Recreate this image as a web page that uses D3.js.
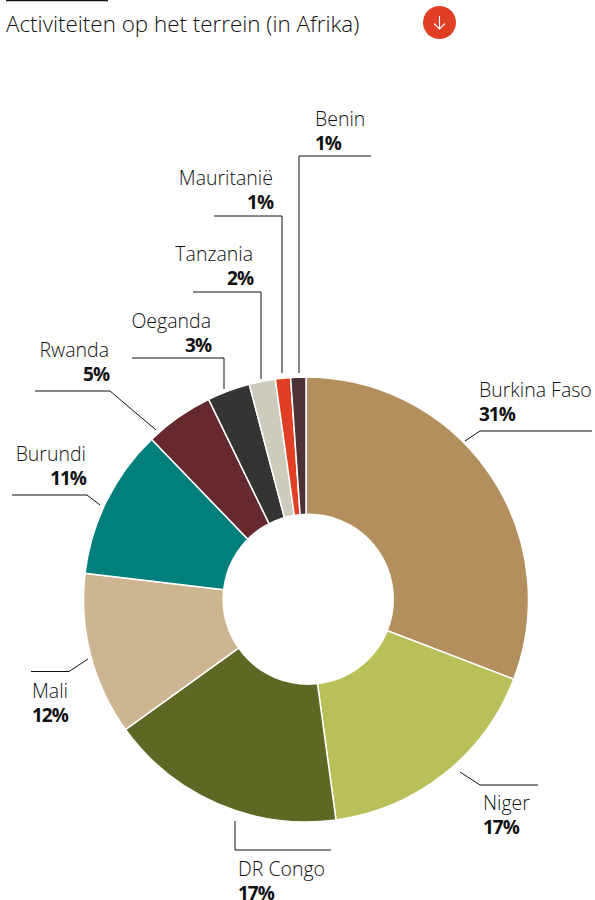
<!DOCTYPE html>
<html>
<head>
<meta charset="utf-8">
<script src="https://cdn.jsdelivr.net/npm/d3@7"></script>
<style>
  html, body { margin: 0; padding: 0; background: #fff; }
  svg { display: block; font-family: "Open Sans", sans-serif; }
  .naam { font-size: 19.5px; font-weight: 300; fill: #111; }
  .pct { font-size: 19px; font-weight: 700; fill: #111; letter-spacing: -1px; }
</style>
</head>
<body>
<svg width="595" height="900"></svg>
<script>
// Waarden
const landen = ["Burkina Faso", "Niger", "DR Congo", "Mali", "Burundi", "Rwanda", "Oeganda", "Tanzania", "Mauritanië", "Benin"];
const aandelen = [30.8, 17, 17.2, 11.8, 10.9, 5, 3.1, 1.9, 1.1, 1.1];
const labels = ["31%", "17%", "17%", "12%", "11%", "5%", "3%", "2%", "1%", "1%"];
const kleuren = ["#b38f5d", "#b9bf59", "#5e6723", "#cdb591", "#007f7c", "#65292e", "#343432", "#cdcbbb", "#e03f26", "#4f3238"];

// Plaats van de labels en de hulplijnen
const labelPos = [
  { x: 479, y: 397, anchor: "start", line: [[465, 441], [480, 431], [592, 431]] },
  { x: 483, y: 810, anchor: "start", line: [[460, 772], [480, 785], [538, 785]] },
  { x: 238, y: 876, anchor: "start", line: [[235, 821], [235, 850], [331, 850]] },
  { x: 32, y: 698, anchor: "start", line: [[88, 659], [69, 671.5], [31, 671.5]] },
  { x: 86, y: 461, anchor: "end", line: [[100, 505], [87, 495], [12, 495]] },
  { x: 109, y: 357, anchor: "end", line: [[156, 430], [110, 391], [35, 391]] },
  { x: 211, y: 328, anchor: "end", line: [[224, 389], [224, 358], [132, 358]] },
  { x: 253, y: 261, anchor: "end", line: [[261, 379], [261, 292], [193, 292]] },
  { x: 273, y: 185, anchor: "end", line: [[282, 373], [282, 216], [214, 216]] },
  { x: 315, y: 126, anchor: "start", line: [[299, 373], [299, 156], [371, 156]] }
];

const svg = d3.select("svg");

// Titel met streepje erboven
svg.append("line")
  .attr("x1", 6).attr("x2", 108)
  .attr("y1", 0.5).attr("y2", 0.5)
  .attr("stroke", "#111").attr("stroke-width", 1.5);

svg.append("text")
  .attr("x", 6).attr("y", 32)
  .attr("font-size", 22.4).attr("font-weight", 300)
  .attr("fill", "#111")
  .text("Activiteiten op het terrein (in Afrika)");

// Rode knop met pijltje
const knop = svg.append("g").attr("transform", "translate(439.5,22.5)");
knop.append("circle").attr("r", 16.5).attr("fill", "#e03f26");
knop.append("path")
  .attr("d", "M0,-6.5V6.5M-5.5,1L0,6.5L5.5,1")
  .attr("fill", "none").attr("stroke", "#fff").attr("stroke-width", 1.1);

// Taart, het gat komt er los bovenop want dat staat iets uit het midden
const pie = d3.pie().sort(null).value(d => d);
const arc = d3.arc().innerRadius(0).outerRadius(222.5);

svg.append("g")
  .attr("transform", "translate(306,599.5)")
  .selectAll("path")
  .data(pie(aandelen))
  .join("path")
  .attr("d", arc)
  .attr("fill", (d, i) => kleuren[i])
  .attr("stroke", "#fff")
  .attr("stroke-width", 1.5);

svg.append("circle")
  .attr("cx", 308.2).attr("cy", 599.2).attr("r", 85.8)
  .attr("fill", "#fff");

// Hulplijnen
const lijn = d3.line();
svg.append("g")
  .selectAll("path")
  .data(labelPos)
  .join("path")
  .attr("d", d => lijn(d.line))
  .attr("fill", "none")
  .attr("stroke", "#111")
  .attr("stroke-width", 1);

// Labels
const lab = svg.append("g")
  .selectAll("text")
  .data(landen)
  .join("text")
  .attr("text-anchor", (d, i) => labelPos[i].anchor);

lab.append("tspan")
  .attr("class", "naam")
  .attr("x", (d, i) => labelPos[i].x)
  .attr("y", (d, i) => labelPos[i].y)
  .text(d => d);

lab.append("tspan")
  .attr("class", "pct")
  .attr("x", (d, i) => labelPos[i].x)
  .attr("y", (d, i) => labelPos[i].y + 23.5)
  .text((d, i) => labels[i]);
</script>
</body>
</html>
